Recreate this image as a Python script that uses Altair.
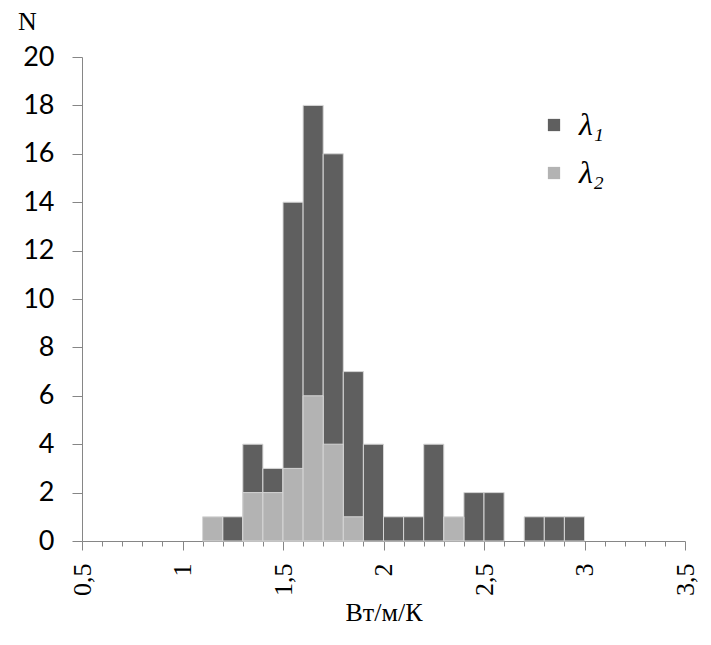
import altair as alt
import pandas as pd

# bin starts (width 0.1), counts for each series
bin_start = [1.1, 1.2, 1.3, 1.4, 1.5, 1.6, 1.7, 1.8, 1.9, 2.0,
             2.1, 2.2, 2.3, 2.4, 2.5, 2.6, 2.7, 2.8, 2.9]
lam1 = [0, 1, 4, 3, 14, 18, 16, 7, 4, 1, 1, 4, 0, 2, 2, 0, 1, 1, 1]
lam2 = [1, 0, 2, 2, 3, 6, 4, 1, 0, 0, 0, 0, 1, 0, 0, 0, 0, 0, 0]
series_names = ["λ₁", "λ₂"]
x_ticks = [0.5, 0.6, 0.7, 0.8, 0.9, 1.0, 1.1, 1.2, 1.3, 1.4, 1.5, 1.6, 1.7,
           1.8, 1.9, 2.0, 2.1, 2.2, 2.3, 2.4, 2.5, 2.6, 2.7, 2.8, 2.9, 3.0,
           3.1, 3.2, 3.3, 3.4, 3.5]
y_ticks = [0, 2, 4, 6, 8, 10, 12, 14, 16, 18, 20]

rows = []
for s, a, b in zip(bin_start, lam1, lam2):
    e = round(s + 0.1, 1)
    if a > 0:
        rows.append({"start": s, "end": e, "n": a, "series": series_names[0]})
    if b > 0:
        rows.append({"start": s, "end": e, "n": b, "series": series_names[1]})
df = pd.DataFrame(rows)

major = "abs(datum.value*2 - round(datum.value*2)) < 0.001"

x_enc = alt.X(
    "start:Q",
    scale=alt.Scale(domain=[0.5, 3.5], nice=False, zero=False),
    axis=alt.Axis(
        values=x_ticks,
        title="Вт/м/К",
        titleFont="Liberation Serif",
        titleFontSize=26,
        titleFontWeight="normal",
        titleColor="#000000",
        titlePadding=4,
        labelExpr=f"({major}) ? replace(format(datum.value, '.1~f'), '.', ',') : ''",
        labelAngle=-90,
        labelAlign="right",
        labelBaseline="middle",
        labelFont="Liberation Serif",
        labelFontSize=26,
        labelColor="#000000",
        labelPadding=13,
        labelOverlap=False,
        labelFlush=False,
        tickSize={"condition": {"test": major, "value": 9}, "value": 5},
        tickColor="#868686",
        domainColor="#868686",
        grid=False,
    ),
)
y_enc = alt.Y(
    "n:Q",
    scale=alt.Scale(domain=[0, 20], nice=False),
    axis=alt.Axis(
        values=y_ticks,
        title="N",
        titleAngle=0,
        titleX=-55,
        titleY=-28,
        titleAlign="center",
        titleBaseline="alphabetic",
        titleFont="Liberation Serif",
        titleFontSize=26,
        titleFontWeight="normal",
        titleColor="#000000",
        labelFont="Lato",
        labelFontSize=27,
        labelColor="#000000",
        labelPadding=18,
        tickSize=10,
        tickColor="#868686",
        domainColor="#868686",
        grid=False,
    ),
)

color_enc = alt.Color(
    "series:N",
    scale=alt.Scale(domain=series_names, range=["#5f5f5f", "#b3b3b3"]),
    legend=alt.Legend(
        title=None,
        orient="none",
        legendX=456,
        legendY=52,
        symbolType="square",
        symbolSize=150,
        symbolStrokeWidth=0,
        labelFont="Liberation Serif",
        labelFontStyle="italic",
        labelFontSize=32,
        labelColor="#000000",
        labelOffset=9,
        rowPadding=16,
    ),
)

base = alt.Chart(df).mark_rect(stroke="#d6d6d6", strokeWidth=1).encode(
    x=x_enc,
    x2="end:Q",
    y=y_enc,
    y2=alt.datum(0),
    color=color_enc,
)

l1 = base.transform_filter(alt.datum.series == series_names[0])
l2 = base.transform_filter(alt.datum.series == series_names[1])

chart = alt.layer(l1, l2).properties(
    width=603,
    height=484,
    autosize=alt.AutoSizeParams(type="none"),
    padding={"left": 74, "top": 49, "right": 16, "bottom": 86},
    background="white",
).configure_view(stroke=None)

chart.save("out.html", embed_options={"renderer": "svg", "actions": False})
